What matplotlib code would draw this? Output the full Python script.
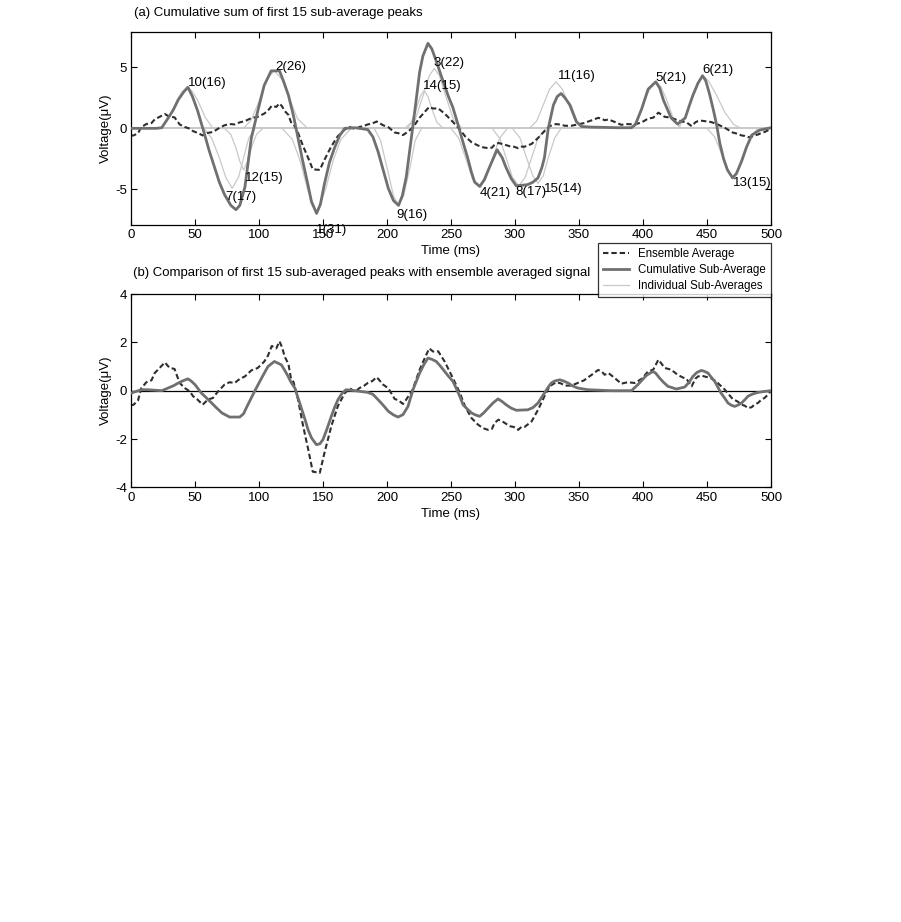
import numpy as np
import matplotlib
matplotlib.use('Agg')
from matplotlib import pyplot as plt
from matplotlib.lines import Line2D

plt.rcParams['font.family'] = ['Liberation Sans', 'DejaVu Sans']
plt.rcParams['axes.unicode_minus'] = False

# ---- data (time in ms, voltage in uV) ----

# ensemble average (same signal in both panels)
ensemble = [
    (0, -0.6), (2, -0.58), (5.5, -0.4), (8, 0.1), (12, 0.35), (16, 0.43), (18.5, 0.73),
    (22.5, 0.95), (26.5, 1.17), (30, 0.95), (34, 0.9), (38, 0.32), (42, 0.11), (46, -0.03),
    (48.5, -0.23), (52, -0.37), (56, -0.58), (60, -0.37), (64, -0.3), (68, -0.03), (73, 0.25),
    (77, 0.35), (81, 0.32), (85, 0.49), (89, 0.59), (94, 0.84), (99, 0.94), (104, 1.2),
    (107, 1.45), (110, 1.85), (113.5, 1.75), (116, 2.04), (118, 1.8), (120, 1.42), (123, 1.1),
    (125, 0.5), (127, 0.35), (130.5, -0.37), (134.5, -1.47), (138.5, -2.44), (142, -3.35),
    (147.5, -3.4), (151, -2.6), (156.5, -1.47), (161.5, -0.65), (167, -0.1), (171, 0.1),
    (175, -0.05), (178.5, 0.11), (182, 0.2), (185, 0.32), (188.5, 0.4), (192, 0.56), (197, 0.25),
    (201, 0.1), (206, -0.34), (209, -0.4), (212.5, -0.55), (215, -0.37), (220, 0.04),
    (225.5, 0.87), (229.5, 1.35), (233, 1.75), (236, 1.62), (240, 1.63), (245, 1.21),
    (251.5, 0.52), (257, -0.1), (261, -0.65), (266, -1.13), (271, -1.4), (275, -1.55),
    (279, -1.62), (282, -1.58), (284, -1.34), (287, -1.2), (291, -1.3), (296, -1.47),
    (299, -1.5), (302.5, -1.62), (305, -1.5), (307.5, -1.5), (313, -1.27), (318, -0.79),
    (323, -0.23), (327, 0.18), (332, 0.35), (336, 0.3), (339, 0.21), (344, 0.21), (349, 0.32),
    (354, 0.43), (357, 0.55), (360, 0.66), (365, 0.86), (368, 0.78), (370, 0.66), (373, 0.73),
    (378, 0.52), (383, 0.29), (388, 0.35), (393.5, 0.32), (399, 0.49), (404, 0.8), (408, 0.87),
    (412, 1.28), (414, 1.15), (417, 0.94), (420, 0.9), (422, 0.87), (427, 0.66), (431, 0.55),
    (434, 0.49), (438, 0.18), (441, 0.5), (443, 0.59), (446, 0.62), (448, 0.59), (453, 0.52),
    (456, 0.42), (459, 0.29), (464, 0.04), (467, -0.15), (470, -0.34), (474, -0.45),
    (477, -0.58), (479.5, -0.62), (482, -0.72), (485, -0.68), (487, -0.58), (490, -0.5),
    (492.5, -0.37), (495, -0.3), (497.5, -0.17), (500, 0.0),
]

# (a) cumulative sum of the sub-average peaks
cumulative_a = [
    (0, 0.0), (10, 0.0), (20, 0.0), (24, 0.05), (29, 0.84), (33, 1.5), (37, 2.35), (41, 2.95),
    (44.5, 3.35), (48, 2.6), (52, 1.45), (57.5, -0.5), (61, -1.8), (65, -3.1), (69, -4.4),
    (73, -5.4), (78, -6.3), (82, -6.65), (85, -6.3), (89, -4.8), (94, -0.8), (99, 1.4),
    (104, 3.5), (109.5, 4.7), (116, 4.7), (119, 3.9), (123, 2.7), (127, 1.0), (130.5, -0.8),
    (134, -2.6), (138, -4.5), (141, -6.0), (145, -6.95), (148, -6.2), (151, -4.6), (155, -2.8),
    (159, -1.6), (163, -0.6), (167, 0.0), (175, 0.05), (185, -0.1), (189, -0.7), (193, -1.9),
    (197, -3.4), (201, -4.9), (205, -5.9), (209, -6.3), (212, -5.5), (215, -4.0), (218, -1.6),
    (220, 0.0), (223, 2.5), (225.5, 4.6), (228, 5.9), (232, 6.95), (235, 6.5), (238.5, 5.5),
    (242, 4.4), (245, 3.5), (248, 2.6), (251.5, 1.7), (255.5, 0.3), (259, -1.0), (263, -2.4),
    (266, -3.6), (268.5, -4.4), (272.5, -4.75), (276, -4.2), (280, -3.2), (286, -1.75),
    (290, -2.4), (293, -3.2), (297, -4.1), (301, -4.7), (306, -4.65), (310, -4.6), (314, -4.4),
    (318, -4.05), (321, -3.2), (323, -2.4), (326, 0.0), (330, 1.9), (333, 2.6), (336, 2.85),
    (339, 2.5), (343, 1.9), (348, 0.55), (352, 0.15), (360, 0.1), (370, 0.08), (380, 0.05),
    (391, 0.05), (394, 0.3), (399, 1.6), (404, 3.2), (410, 3.8), (413, 3.3), (416, 2.3),
    (422, 0.85), (427, 0.35), (433, 0.85), (436, 1.8), (439, 2.7), (443, 3.7), (446.5, 4.3),
    (449, 3.9), (452, 2.8), (455, 1.5), (457.5, 0.3), (460, -1.2), (463, -2.5), (466, -3.4),
    (470, -4.05), (473, -3.7), (477, -2.7), (481, -1.5), (485, -0.55), (491, -0.15), (500, 0.05),
]

# (b) cumulative sub-average compared with the ensemble
cumulative_b = [
    (0, -0.1), (8, 0.04), (13, 0.04), (24, 0.0), (29, 0.11), (33, 0.2), (37, 0.32), (41, 0.42),
    (44.5, 0.49), (47, 0.4), (50, 0.25), (55, -0.1), (59, -0.3), (63, -0.51), (67, -0.72),
    (71, -0.92), (77, -1.09), (85, -1.09), (88, -0.95), (90, -0.72), (93, -0.4), (96.5, -0.03),
    (102, 0.52), (107, 1.0), (112, 1.21), (117.5, 1.07), (120, 0.85), (122.7, 0.6), (125, 0.35),
    (128, 0.11), (130.5, -0.3), (133, -0.72), (136, -1.2), (138.3, -1.61), (141, -1.95),
    (144.8, -2.23), (147.5, -2.2), (150, -2.02), (153, -1.6), (156.5, -1.06), (159, -0.7),
    (161.7, -0.37), (165, -0.1), (168, 0.04), (175, 0.0), (185, -0.07), (189, -0.15),
    (193, -0.37), (197, -0.6), (201, -0.85), (205, -1.0), (208.6, -1.09), (212.5, -0.99),
    (216.4, -0.65), (220.3, 0.04), (223, 0.4), (225.5, 0.73), (229, 1.1), (232, 1.35),
    (235, 1.3), (238.5, 1.21), (242, 1.0), (245, 0.8), (248, 0.6), (251.5, 0.39), (254, 0.11),
    (257, -0.25), (259.4, -0.58), (262, -0.72), (266, -0.92), (269, -1.0), (272.4, -1.06),
    (275.5, -0.92), (279, -0.72), (283, -0.5), (286.7, -0.34), (290, -0.45), (293, -0.58),
    (297, -0.72), (301, -0.81), (305, -0.8), (310, -0.79), (314, -0.7), (318, -0.51),
    (320.5, -0.3), (323, -0.1), (326, 0.15), (328.4, 0.32), (331, 0.4), (335, 0.45), (338, 0.4),
    (341.4, 0.32), (345, 0.2), (349, 0.11), (357, 0.04), (366, 0.02), (375, 0.0), (391, 0.0),
    (396, 0.25), (402.6, 0.63), (407.8, 0.8), (410, 0.72), (413, 0.52), (416, 0.35),
    (419.5, 0.18), (426, 0.07), (432.6, 0.15), (436, 0.35), (439, 0.59), (442, 0.75),
    (445.6, 0.84), (448, 0.8), (450.8, 0.73), (453, 0.58), (456, 0.39), (458.5, 0.15),
    (461, -0.1), (464, -0.32), (466.4, -0.51), (469, -0.6), (471.6, -0.65), (474, -0.6),
    (477, -0.51), (480, -0.35), (482, -0.23), (486, -0.13), (490, -0.07), (495, -0.03), (500, 0.0),
]

# individual sub-average peaks: label -> points (zero outside the bump)
peaks = {
    '1(31)': [(0, 0), (118, 0), (126, -0.9), (132, -2.6), (138, -5.0), (145, -7.0), (152, -5.0), (158, -2.6), (164, -0.9), (172, 0), (500, 0)],
    '2(26)': [(0, 0), (88, 0), (94, 0.7), (100, 2.2), (106, 4.0), (112, 4.7), (118, 4.0), (124, 2.4), (130, 0.8), (138, 0), (500, 0)],
    '3(22)': [(0, 0), (215, 0), (222, 0.7), (228, 2.6), (233, 4.3), (237, 4.9), (241, 4.3), (246, 2.6), (252, 0.7), (259, 0), (500, 0)],
    '4(21)': [(0, 0), (250, 0), (256, -0.8), (262, -2.6), (267, -4.2), (272, -4.8), (277, -4.2), (282, -2.6), (288, -0.8), (294, 0), (500, 0)],
    '5(21)': [(0, 0), (390, 0), (396, 0.7), (401, 2.2), (406, 3.4), (410, 3.8), (414, 3.4), (419, 2.2), (424, 0.7), (430, 0), (500, 0)],
    '6(21)': [(0, 0), (427, 0), (433, 0.8), (438, 2.5), (443, 3.8), (447, 4.3), (451, 3.9), (457, 2.8), (464, 1.3), (471, 0.3), (477, 0), (500, 0)],
    '7(17)': [(0, 0), (57, 0), (63, -0.8), (69, -2.4), (74, -4.0), (79, -4.9), (84, -4.0), (88, -2.4), (92, -0.8), (97, 0), (500, 0)],
    '8(17)': [(0, 0), (282, 0), (288, -0.8), (293, -2.4), (298, -4.0), (303, -4.7), (308, -4.0), (313, -2.4), (318, -0.8), (324, 0), (500, 0)],
    '9(16)': [(0, 0), (190, 0), (195, -1.0), (200, -3.2), (205, -5.5), (209, -6.3), (213, -5.5), (218, -3.2), (222, -1.0), (227, 0), (500, 0)],
    '10(16)': [(0, 0), (24, 0), (30, 0.9), (36, 2.3), (40, 3.0), (44, 3.4), (48, 3.0), (52, 2.3), (58, 0.9), (64, 0), (500, 0)],
    '11(16)': [(0, 0), (311, 0), (317, 0.6), (322, 1.9), (327, 3.2), (332, 3.8), (337, 3.2), (342, 1.9), (347, 0.6), (353, 0), (500, 0)],
    '12(15)': [(0, 0), (73, 0), (78, -0.5), (82, -1.6), (85, -2.7), (88, -3.4), (91, -2.7), (94, -1.6), (98, -0.5), (103, 0), (500, 0)],
    '13(15)': [(0, 0), (450, 0), (456, -0.7), (461, -2.0), (466, -3.4), (470, -4.1), (474, -3.4), (479, -2.0), (484, -0.7), (490, 0), (500, 0)],
    '14(15)': [(0, 0), (214, 0), (219, 0.5), (223, 1.6), (226, 2.6), (229, 3.1), (232, 2.6), (235, 1.6), (239, 0.5), (244, 0), (500, 0)],
    '15(14)': [(0, 0), (298, 0), (304, -0.8), (309, -2.4), (314, -3.9), (318, -4.5), (322, -3.9), (326, -2.4), (331, -0.8), (336, 0), (500, 0)],
}

# where each peak label is written
label_pos = {
    '1(31)': (144.5, -8.35), '2(26)': (112.5, 5.0), '3(22)': (236.2, 5.35),
    '4(21)': (272.7, -5.25), '5(21)': (409.4, 4.08), '6(21)': (446.6, 4.81),
    '7(17)': (73.4, -5.58), '8(17)': (300.0, -5.17), '9(16)': (207.6, -7.07),
    '10(16)': (44.3, 3.67), '11(16)': (333.3, 4.27), '12(15)': (89.1, -4.03),
    '13(15)': (470.6, -4.49), '14(15)': (228.4, 3.45), '15(14)': (322.9, -4.98),
}

x_ticks = np.arange(0, 501, 50)
FS = 9.5

ens_style = dict(color='#2e2e2e', lw=1.5, ls=(0, (2.6, 1.4)))
cum_style = dict(color='#707070', lw=2.0)
ind_style = dict(color='#c9c9c9', lw=0.9)


def xy(points):
    arr = np.array(points, dtype=float)
    return arr[:, 0], arr[:, 1]


def style_axes(ax, yticks, ylim):
    ax.set_xlim(0, 500)
    ax.set_ylim(*ylim)
    ax.set_xticks(x_ticks)
    ax.set_yticks(yticks)
    ax.tick_params(direction='in', top=True, right=True, length=4, width=0.8,
                   labelsize=FS, pad=3)
    for s in ax.spines.values():
        s.set_linewidth(0.9)
    ax.set_xlabel('Time (ms)', fontsize=FS, labelpad=3)
    ax.set_ylabel('Voltage(\u03bcV)', fontsize=FS, labelpad=2)


fig = plt.figure(figsize=(9.01, 9.22), dpi=100)
ax1 = fig.add_axes([0.1454, 0.756, 0.7103, 0.2096])
ax2 = fig.add_axes([0.1454, 0.4714, 0.7103, 0.2097])

# (a) individual peaks, ensemble, cumulative
for name, pts in peaks.items():
    t, v = xy(pts)
    ax1.plot(t, v, zorder=1, **ind_style)
t, v = xy(ensemble)
ax1.plot(t, v, zorder=2, **ens_style)
t, v = xy(cumulative_a)
ax1.plot(t, v, zorder=3, **cum_style)
for name, (lt, lv) in label_pos.items():
    ax1.text(lt, lv, name, fontsize=FS, ha='left', va='center', clip_on=False, zorder=4)
style_axes(ax1, [-5, 0, 5], (-7.9, 7.9))

# (b) comparison with the ensemble
ax2.axhline(0, color='black', lw=0.9, zorder=1)
t, v = xy(ensemble)
ax2.plot(t, v, zorder=2, **ens_style)
t, v = xy(cumulative_b)
ax2.plot(t, v, zorder=3, **cum_style)
style_axes(ax2, [-4, -2, 0, 2, 4], (-4, 4))

fig.text(134 / 901, 1 - 13 / 922, '(a) Cumulative sum of first 15 sub-average peaks',
         fontsize=FS, ha='left', va='center')
fig.text(133 / 901, 1 - 273 / 922,
         '(b) Comparison of first 15 sub-averaged peaks with ensemble averaged signal',
         fontsize=FS, ha='left', va='center')

handles = [Line2D([], [], **ens_style), Line2D([], [], **cum_style), Line2D([], [], **ind_style)]
leg = fig.legend(handles, ['Ensemble Average', 'Cumulative Sub-Average', 'Individual Sub-Averages'],
                 loc='upper right', bbox_to_anchor=(771 / 901, 1 - 243 / 922),
                 fontsize=8.3, frameon=True, fancybox=False, edgecolor='black',
                 handlelength=2.2, handletextpad=0.8, borderpad=0.45, labelspacing=0.35,
                 borderaxespad=0)
leg.get_frame().set_linewidth(0.9)

fig.savefig('out.png', dpi=100)
